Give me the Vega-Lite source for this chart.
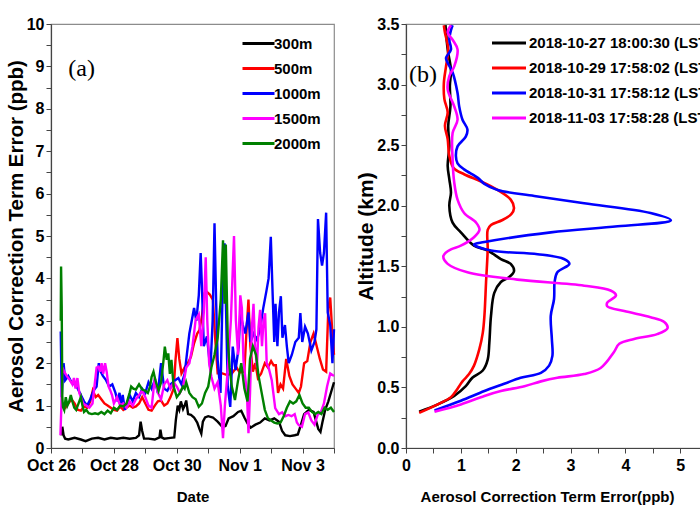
{
  "$schema": "https://vega.github.io/schema/vega-lite/v6.json",
  "background": "white",
  "padding": {"left": 5, "top": 15, "right": 0, "bottom": 0},
  "spacing": 15,
  "config": {
    "font": "Liberation Sans",
    "view": {"stroke": "#8c8c8c", "strokeWidth": 1.2},
    "axis": {
      "grid": false,
      "labelFont": "Liberation Sans",
      "labelFontWeight": "bold",
      "labelFontSize": 16,
      "labelColor": "black",
      "labelOverlap": false,
      "labelFlush": false,
      "titleFont": "Liberation Sans",
      "titleFontWeight": "bold",
      "titleFontSize": 15,
      "titleColor": "black",
      "domainColor": "#444444",
      "domainWidth": 1.2,
      "tickColor": "#444444",
      "tickSize": 5,
      "labelPadding": 2
    },
    "legend": {
      "title": null,
      "symbolStrokeWidth": 3,
      "labelFont": "Liberation Sans",
      "labelFontWeight": "bold",
      "labelFontSize": 15,
      "labelColor": "black",
      "padding": 0,
      "rowPadding": 7,
      "labelLimit": 1000
    }
  },
  "resolve": {"scale": {"x": "independent", "y": "independent", "color": "independent"}, "legend": {"color": "independent"}},
  "datasets": {
    "notesA": [{"label": "(a)", "time": "2018-10-26T13:12", "value": 8.94}],
    "notesB": [{"label": "(b)", "err": 0.055, "alt": 3.08}],
    "ts": [
      {"series":"300m","time":"2018-10-26T07:55","value":0.30},
      {"series":"300m","time":"2018-10-26T08:38","value":0.50},
      {"series":"300m","time":"2018-10-26T09:36","value":0.30},
      {"series":"300m","time":"2018-10-26T10:48","value":0.22},
      {"series":"300m","time":"2018-10-26T13:12","value":0.20},
      {"series":"300m","time":"2018-10-26T18:00","value":0.24},
      {"series":"300m","time":"2018-10-26T22:48","value":0.20},
      {"series":"300m","time":"2018-10-27T02:24","value":0.16},
      {"series":"300m","time":"2018-10-27T07:12","value":0.22},
      {"series":"300m","time":"2018-10-27T12:00","value":0.24},
      {"series":"300m","time":"2018-10-27T16:48","value":0.20},
      {"series":"300m","time":"2018-10-27T21:36","value":0.24},
      {"series":"300m","time":"2018-10-28T02:24","value":0.22},
      {"series":"300m","time":"2018-10-28T07:12","value":0.24},
      {"series":"300m","time":"2018-10-28T12:00","value":0.22},
      {"series":"300m","time":"2018-10-28T16:48","value":0.24},
      {"series":"300m","time":"2018-10-28T19:12","value":0.30},
      {"series":"300m","time":"2018-10-28T20:24","value":0.62},
      {"series":"300m","time":"2018-10-28T21:36","value":0.40},
      {"series":"300m","time":"2018-10-28T23:02","value":0.22},
      {"series":"300m","time":"2018-10-29T02:24","value":0.22},
      {"series":"300m","time":"2018-10-29T07:12","value":0.20},
      {"series":"300m","time":"2018-10-29T10:48","value":0.25},
      {"series":"300m","time":"2018-10-29T11:31","value":0.43},
      {"series":"300m","time":"2018-10-29T12:29","value":0.25},
      {"series":"300m","time":"2018-10-29T14:24","value":0.22},
      {"series":"300m","time":"2018-10-29T19:12","value":0.24},
      {"series":"300m","time":"2018-10-29T22:05","value":0.25},
      {"series":"300m","time":"2018-10-29T23:17","value":0.66},
      {"series":"300m","time":"2018-10-30T00:43","value":1.00},
      {"series":"300m","time":"2018-10-30T01:55","value":0.90},
      {"series":"300m","time":"2018-10-30T03:07","value":1.10},
      {"series":"300m","time":"2018-10-30T04:48","value":0.92},
      {"series":"300m","time":"2018-10-30T06:00","value":1.00},
      {"series":"300m","time":"2018-10-30T07:12","value":1.12},
      {"series":"300m","time":"2018-10-30T08:38","value":0.80},
      {"series":"300m","time":"2018-10-30T10:48","value":0.78},
      {"series":"300m","time":"2018-10-30T13:12","value":0.72},
      {"series":"300m","time":"2018-10-30T15:36","value":0.60},
      {"series":"300m","time":"2018-10-30T17:17","value":0.45},
      {"series":"300m","time":"2018-10-30T18:43","value":0.34},
      {"series":"300m","time":"2018-10-30T19:55","value":0.62},
      {"series":"300m","time":"2018-10-30T21:36","value":0.72},
      {"series":"300m","time":"2018-10-31T00:00","value":0.75},
      {"series":"300m","time":"2018-10-31T03:36","value":0.72},
      {"series":"300m","time":"2018-10-31T07:12","value":0.62},
      {"series":"300m","time":"2018-10-31T10:48","value":0.50},
      {"series":"300m","time":"2018-10-31T13:12","value":0.52},
      {"series":"300m","time":"2018-10-31T15:36","value":0.70},
      {"series":"300m","time":"2018-10-31T19:12","value":0.75},
      {"series":"300m","time":"2018-10-31T22:48","value":0.85},
      {"series":"300m","time":"2018-11-01T01:12","value":0.88},
      {"series":"300m","time":"2018-11-01T03:36","value":0.72},
      {"series":"300m","time":"2018-11-01T06:00","value":0.58},
      {"series":"300m","time":"2018-11-01T08:24","value":0.48},
      {"series":"300m","time":"2018-11-01T12:00","value":0.55},
      {"series":"300m","time":"2018-11-01T15:36","value":0.60},
      {"series":"300m","time":"2018-11-01T19:12","value":0.70},
      {"series":"300m","time":"2018-11-01T22:48","value":0.65},
      {"series":"300m","time":"2018-11-02T02:24","value":0.70},
      {"series":"300m","time":"2018-11-02T06:00","value":0.62},
      {"series":"300m","time":"2018-11-02T08:24","value":0.40},
      {"series":"300m","time":"2018-11-02T10:48","value":0.30},
      {"series":"300m","time":"2018-11-02T14:24","value":0.28},
      {"series":"300m","time":"2018-11-02T18:00","value":0.30},
      {"series":"300m","time":"2018-11-02T20:24","value":0.32},
      {"series":"300m","time":"2018-11-02T22:48","value":0.55},
      {"series":"300m","time":"2018-11-03T01:12","value":0.80},
      {"series":"300m","time":"2018-11-03T04:48","value":0.90},
      {"series":"300m","time":"2018-11-03T08:24","value":0.85},
      {"series":"300m","time":"2018-11-03T12:00","value":0.45},
      {"series":"300m","time":"2018-11-03T13:41","value":0.38},
      {"series":"300m","time":"2018-11-03T15:07","value":0.60},
      {"series":"300m","time":"2018-11-03T17:17","value":0.90},
      {"series":"300m","time":"2018-11-03T19:41","value":1.10},
      {"series":"300m","time":"2018-11-03T22:05","value":1.35},
      {"series":"300m","time":"2018-11-04T00:00","value":1.55},

      {"series":"500m","time":"2018-10-26T09:36","value":1.00},
      {"series":"500m","time":"2018-10-26T10:48","value":0.95},
      {"series":"500m","time":"2018-10-26T13:12","value":1.05},
      {"series":"500m","time":"2018-10-26T15:36","value":1.15},
      {"series":"500m","time":"2018-10-26T18:00","value":1.05},
      {"series":"500m","time":"2018-10-26T20:24","value":0.90},
      {"series":"500m","time":"2018-10-26T22:48","value":0.88},
      {"series":"500m","time":"2018-10-27T01:12","value":0.98},
      {"series":"500m","time":"2018-10-27T03:36","value":0.95},
      {"series":"500m","time":"2018-10-27T06:00","value":1.10},
      {"series":"500m","time":"2018-10-27T07:55","value":1.36},
      {"series":"500m","time":"2018-10-27T10:05","value":1.20},
      {"series":"500m","time":"2018-10-27T12:00","value":1.25},
      {"series":"500m","time":"2018-10-27T14:24","value":1.15},
      {"series":"500m","time":"2018-10-27T16:48","value":1.05},
      {"series":"500m","time":"2018-10-27T19:12","value":1.00},
      {"series":"500m","time":"2018-10-27T21:36","value":0.95},
      {"series":"500m","time":"2018-10-28T00:00","value":0.90},
      {"series":"500m","time":"2018-10-28T02:24","value":0.88},
      {"series":"500m","time":"2018-10-28T04:48","value":0.98},
      {"series":"500m","time":"2018-10-28T07:12","value":0.90},
      {"series":"500m","time":"2018-10-28T09:36","value":0.95},
      {"series":"500m","time":"2018-10-28T12:00","value":1.00},
      {"series":"500m","time":"2018-10-28T14:24","value":0.95},
      {"series":"500m","time":"2018-10-28T16:48","value":0.98},
      {"series":"500m","time":"2018-10-28T19:12","value":1.05},
      {"series":"500m","time":"2018-10-28T21:36","value":1.20},
      {"series":"500m","time":"2018-10-29T00:00","value":1.05},
      {"series":"500m","time":"2018-10-29T02:24","value":0.90},
      {"series":"500m","time":"2018-10-29T04:48","value":0.88},
      {"series":"500m","time":"2018-10-29T07:12","value":1.00},
      {"series":"500m","time":"2018-10-29T09:36","value":1.10},
      {"series":"500m","time":"2018-10-29T12:00","value":1.12},
      {"series":"500m","time":"2018-10-29T14:24","value":1.00},
      {"series":"500m","time":"2018-10-29T16:48","value":1.05},
      {"series":"500m","time":"2018-10-29T19:12","value":1.20},
      {"series":"500m","time":"2018-10-29T21:36","value":1.40},
      {"series":"500m","time":"2018-10-29T23:02","value":2.08},
      {"series":"500m","time":"2018-10-30T00:29","value":2.59},
      {"series":"500m","time":"2018-10-30T01:55","value":2.10},
      {"series":"500m","time":"2018-10-30T03:36","value":1.76},
      {"series":"500m","time":"2018-10-30T06:00","value":1.90},
      {"series":"500m","time":"2018-10-30T08:24","value":2.00},
      {"series":"500m","time":"2018-10-30T10:48","value":2.15},
      {"series":"500m","time":"2018-10-30T13:12","value":2.47},
      {"series":"500m","time":"2018-10-30T15:36","value":2.70},
      {"series":"500m","time":"2018-10-30T17:17","value":2.78},
      {"series":"500m","time":"2018-10-30T19:12","value":3.10},
      {"series":"500m","time":"2018-10-30T21:07","value":3.65},
      {"series":"500m","time":"2018-10-30T23:02","value":3.68},
      {"series":"500m","time":"2018-10-31T01:12","value":3.62},
      {"series":"500m","time":"2018-10-31T03:36","value":3.49},
      {"series":"500m","time":"2018-10-31T05:17","value":2.60},
      {"series":"500m","time":"2018-10-31T07:12","value":1.76},
      {"series":"500m","time":"2018-10-31T10:48","value":1.76},
      {"series":"500m","time":"2018-10-31T14:24","value":1.72},
      {"series":"500m","time":"2018-10-31T18:00","value":1.76},
      {"series":"500m","time":"2018-10-31T21:36","value":1.90},
      {"series":"500m","time":"2018-11-01T00:00","value":1.78},
      {"series":"500m","time":"2018-11-01T03:36","value":1.80},
      {"series":"500m","time":"2018-11-01T05:17","value":2.80},
      {"series":"500m","time":"2018-11-01T06:43","value":3.50},
      {"series":"500m","time":"2018-11-01T08:10","value":2.40},
      {"series":"500m","time":"2018-11-01T10:05","value":1.80},
      {"series":"500m","time":"2018-11-01T12:00","value":2.00},
      {"series":"500m","time":"2018-11-01T13:55","value":1.65},
      {"series":"500m","time":"2018-11-01T16:19","value":1.75},
      {"series":"500m","time":"2018-11-01T19:12","value":2.00},
      {"series":"500m","time":"2018-11-01T21:36","value":1.90},
      {"series":"500m","time":"2018-11-02T00:00","value":2.05},
      {"series":"500m","time":"2018-11-02T01:55","value":1.95},
      {"series":"500m","time":"2018-11-02T03:36","value":1.95},
      {"series":"500m","time":"2018-11-02T05:17","value":1.30},
      {"series":"500m","time":"2018-11-02T07:12","value":1.50},
      {"series":"500m","time":"2018-11-02T09:07","value":1.40},
      {"series":"500m","time":"2018-11-02T11:31","value":2.10},
      {"series":"500m","time":"2018-11-02T13:55","value":1.70},
      {"series":"500m","time":"2018-11-02T16:19","value":1.50},
      {"series":"500m","time":"2018-11-02T18:43","value":1.40},
      {"series":"500m","time":"2018-11-02T21:07","value":1.30},
      {"series":"500m","time":"2018-11-02T22:48","value":1.45},
      {"series":"500m","time":"2018-11-03T01:12","value":2.00},
      {"series":"500m","time":"2018-11-03T03:36","value":2.05},
      {"series":"500m","time":"2018-11-03T06:00","value":2.50},
      {"series":"500m","time":"2018-11-03T08:24","value":2.70},
      {"series":"500m","time":"2018-11-03T10:48","value":2.40},
      {"series":"500m","time":"2018-11-03T13:12","value":2.10},
      {"series":"500m","time":"2018-11-03T15:36","value":1.85},
      {"series":"500m","time":"2018-11-03T18:00","value":1.80},
      {"series":"500m","time":"2018-11-03T19:41","value":3.30},
      {"series":"500m","time":"2018-11-03T21:07","value":3.55},
      {"series":"500m","time":"2018-11-03T22:34","value":2.80},
      {"series":"500m","time":"2018-11-04T00:00","value":2.20},

      {"series":"1000m","time":"2018-10-26T07:26","value":2.75},
      {"series":"1000m","time":"2018-10-26T08:10","value":1.20},
      {"series":"1000m","time":"2018-10-26T09:36","value":2.00},
      {"series":"1000m","time":"2018-10-26T10:48","value":1.60},
      {"series":"1000m","time":"2018-10-26T13:12","value":1.70},
      {"series":"1000m","time":"2018-10-26T15:36","value":1.55},
      {"series":"1000m","time":"2018-10-26T18:00","value":1.50},
      {"series":"1000m","time":"2018-10-26T20:24","value":1.40},
      {"series":"1000m","time":"2018-10-26T22:48","value":1.25},
      {"series":"1000m","time":"2018-10-27T01:12","value":1.10},
      {"series":"1000m","time":"2018-10-27T03:36","value":1.00},
      {"series":"1000m","time":"2018-10-27T06:00","value":1.15},
      {"series":"1000m","time":"2018-10-27T08:24","value":1.35},
      {"series":"1000m","time":"2018-10-27T10:48","value":1.45},
      {"series":"1000m","time":"2018-10-27T12:29","value":2.00},
      {"series":"1000m","time":"2018-10-27T13:55","value":1.80},
      {"series":"1000m","time":"2018-10-27T15:36","value":1.70},
      {"series":"1000m","time":"2018-10-27T18:00","value":1.60},
      {"series":"1000m","time":"2018-10-27T20:24","value":1.45},
      {"series":"1000m","time":"2018-10-27T22:48","value":1.50},
      {"series":"1000m","time":"2018-10-28T01:12","value":1.30},
      {"series":"1000m","time":"2018-10-28T02:53","value":1.10},
      {"series":"1000m","time":"2018-10-28T04:19","value":1.30},
      {"series":"1000m","time":"2018-10-28T05:17","value":1.00},
      {"series":"1000m","time":"2018-10-28T06:43","value":1.25},
      {"series":"1000m","time":"2018-10-28T08:24","value":0.90},
      {"series":"1000m","time":"2018-10-28T10:05","value":1.05},
      {"series":"1000m","time":"2018-10-28T12:00","value":1.25},
      {"series":"1000m","time":"2018-10-28T14:24","value":1.10},
      {"series":"1000m","time":"2018-10-28T16:48","value":1.30},
      {"series":"1000m","time":"2018-10-28T19:12","value":1.20},
      {"series":"1000m","time":"2018-10-28T21:36","value":1.40},
      {"series":"1000m","time":"2018-10-29T00:00","value":1.30},
      {"series":"1000m","time":"2018-10-29T02:24","value":1.55},
      {"series":"1000m","time":"2018-10-29T04:48","value":1.40},
      {"series":"1000m","time":"2018-10-29T07:12","value":1.60},
      {"series":"1000m","time":"2018-10-29T09:36","value":1.30},
      {"series":"1000m","time":"2018-10-29T12:00","value":2.00},
      {"series":"1000m","time":"2018-10-29T14:24","value":1.40},
      {"series":"1000m","time":"2018-10-29T16:48","value":1.35},
      {"series":"1000m","time":"2018-10-29T19:12","value":1.50},
      {"series":"1000m","time":"2018-10-29T22:48","value":1.60},
      {"series":"1000m","time":"2018-10-30T01:12","value":1.65},
      {"series":"1000m","time":"2018-10-30T03:36","value":1.50},
      {"series":"1000m","time":"2018-10-30T06:00","value":1.75},
      {"series":"1000m","time":"2018-10-30T07:41","value":2.20},
      {"series":"1000m","time":"2018-10-30T09:36","value":2.70},
      {"series":"1000m","time":"2018-10-30T11:31","value":3.02},
      {"series":"1000m","time":"2018-10-30T13:12","value":3.30},
      {"series":"1000m","time":"2018-10-30T14:53","value":3.00},
      {"series":"1000m","time":"2018-10-30T16:48","value":3.60},
      {"series":"1000m","time":"2018-10-30T18:14","value":4.60},
      {"series":"1000m","time":"2018-10-30T19:12","value":3.80},
      {"series":"1000m","time":"2018-10-30T20:38","value":2.40},
      {"series":"1000m","time":"2018-10-30T23:02","value":2.63},
      {"series":"1000m","time":"2018-10-31T01:41","value":1.84},
      {"series":"1000m","time":"2018-10-31T03:22","value":3.00},
      {"series":"1000m","time":"2018-10-31T04:48","value":5.30},
      {"series":"1000m","time":"2018-10-31T06:00","value":3.50},
      {"series":"1000m","time":"2018-10-31T07:12","value":2.08},
      {"series":"1000m","time":"2018-10-31T09:22","value":1.30},
      {"series":"1000m","time":"2018-10-31T11:02","value":3.80},
      {"series":"1000m","time":"2018-10-31T12:29","value":4.83},
      {"series":"1000m","time":"2018-10-31T13:26","value":3.50},
      {"series":"1000m","time":"2018-10-31T14:53","value":1.45},
      {"series":"1000m","time":"2018-10-31T16:48","value":0.97},
      {"series":"1000m","time":"2018-10-31T18:43","value":2.39},
      {"series":"1000m","time":"2018-10-31T20:53","value":1.84},
      {"series":"1000m","time":"2018-10-31T23:17","value":2.39},
      {"series":"1000m","time":"2018-11-01T00:29","value":3.20},
      {"series":"1000m","time":"2018-11-01T02:24","value":2.90},
      {"series":"1000m","time":"2018-11-01T04:19","value":2.70},
      {"series":"1000m","time":"2018-11-01T06:43","value":3.20},
      {"series":"1000m","time":"2018-11-01T08:10","value":2.50},
      {"series":"1000m","time":"2018-11-01T10:48","value":2.70},
      {"series":"1000m","time":"2018-11-01T13:12","value":2.55},
      {"series":"1000m","time":"2018-11-01T15:36","value":2.80},
      {"series":"1000m","time":"2018-11-01T18:00","value":3.30},
      {"series":"1000m","time":"2018-11-01T20:24","value":3.70},
      {"series":"1000m","time":"2018-11-01T22:05","value":4.00},
      {"series":"1000m","time":"2018-11-01T23:46","value":4.98},
      {"series":"1000m","time":"2018-11-02T01:12","value":3.60},
      {"series":"1000m","time":"2018-11-02T02:24","value":2.50},
      {"series":"1000m","time":"2018-11-02T03:22","value":3.40},
      {"series":"1000m","time":"2018-11-02T04:48","value":2.40},
      {"series":"1000m","time":"2018-11-02T06:00","value":3.20},
      {"series":"1000m","time":"2018-11-02T07:26","value":3.58},
      {"series":"1000m","time":"2018-11-02T08:38","value":2.60},
      {"series":"1000m","time":"2018-11-02T10:34","value":2.90},
      {"series":"1000m","time":"2018-11-02T12:00","value":2.40},
      {"series":"1000m","time":"2018-11-02T13:26","value":2.00},
      {"series":"1000m","time":"2018-11-02T15:50","value":2.20},
      {"series":"1000m","time":"2018-11-02T18:29","value":2.50},
      {"series":"1000m","time":"2018-11-02T21:07","value":2.60},
      {"series":"1000m","time":"2018-11-02T22:19","value":3.18},
      {"series":"1000m","time":"2018-11-02T23:46","value":2.50},
      {"series":"1000m","time":"2018-11-03T01:55","value":2.86},
      {"series":"1000m","time":"2018-11-03T04:05","value":2.70},
      {"series":"1000m","time":"2018-11-03T06:43","value":2.30},
      {"series":"1000m","time":"2018-11-03T09:07","value":2.50},
      {"series":"1000m","time":"2018-11-03T10:34","value":2.80},
      {"series":"1000m","time":"2018-11-03T11:46","value":5.40},
      {"series":"1000m","time":"2018-11-03T13:26","value":4.60},
      {"series":"1000m","time":"2018-11-03T14:53","value":4.30},
      {"series":"1000m","time":"2018-11-03T16:19","value":4.60},
      {"series":"1000m","time":"2018-11-03T18:00","value":5.55},
      {"series":"1000m","time":"2018-11-03T19:12","value":3.20},
      {"series":"1000m","time":"2018-11-03T21:07","value":2.90},
      {"series":"1000m","time":"2018-11-03T22:48","value":2.00},
      {"series":"1000m","time":"2018-11-04T00:00","value":2.80},

      {"series":"1500m","time":"2018-10-26T07:12","value":0.30},
      {"series":"1500m","time":"2018-10-26T07:55","value":1.00},
      {"series":"1500m","time":"2018-10-26T08:38","value":1.90},
      {"series":"1500m","time":"2018-10-26T10:05","value":1.80},
      {"series":"1500m","time":"2018-10-26T12:00","value":1.70},
      {"series":"1500m","time":"2018-10-26T14:24","value":1.60},
      {"series":"1500m","time":"2018-10-26T16:19","value":1.50},
      {"series":"1500m","time":"2018-10-26T17:31","value":1.65},
      {"series":"1500m","time":"2018-10-26T18:43","value":1.40},
      {"series":"1500m","time":"2018-10-26T20:10","value":1.65},
      {"series":"1500m","time":"2018-10-26T21:36","value":1.30},
      {"series":"1500m","time":"2018-10-26T22:48","value":1.20},
      {"series":"1500m","time":"2018-10-27T00:29","value":1.05},
      {"series":"1500m","time":"2018-10-27T02:53","value":1.00},
      {"series":"1500m","time":"2018-10-27T05:17","value":0.95},
      {"series":"1500m","time":"2018-10-27T07:41","value":1.05},
      {"series":"1500m","time":"2018-10-27T10:48","value":1.90},
      {"series":"1500m","time":"2018-10-27T12:14","value":1.92},
      {"series":"1500m","time":"2018-10-27T13:26","value":1.80},
      {"series":"1500m","time":"2018-10-27T14:38","value":2.00},
      {"series":"1500m","time":"2018-10-27T15:50","value":1.75},
      {"series":"1500m","time":"2018-10-27T17:17","value":2.00},
      {"series":"1500m","time":"2018-10-27T18:29","value":1.80},
      {"series":"1500m","time":"2018-10-27T19:55","value":1.45},
      {"series":"1500m","time":"2018-10-27T21:07","value":1.37},
      {"series":"1500m","time":"2018-10-27T22:34","value":1.25},
      {"series":"1500m","time":"2018-10-28T00:00","value":1.05},
      {"series":"1500m","time":"2018-10-28T02:24","value":1.20},
      {"series":"1500m","time":"2018-10-28T04:48","value":1.00},
      {"series":"1500m","time":"2018-10-28T07:12","value":1.05},
      {"series":"1500m","time":"2018-10-28T09:36","value":0.95},
      {"series":"1500m","time":"2018-10-28T12:00","value":1.10},
      {"series":"1500m","time":"2018-10-28T14:24","value":1.00},
      {"series":"1500m","time":"2018-10-28T16:48","value":1.15},
      {"series":"1500m","time":"2018-10-28T19:12","value":1.25},
      {"series":"1500m","time":"2018-10-28T21:36","value":1.35},
      {"series":"1500m","time":"2018-10-29T00:00","value":1.20},
      {"series":"1500m","time":"2018-10-29T02:24","value":1.00},
      {"series":"1500m","time":"2018-10-29T04:48","value":0.95},
      {"series":"1500m","time":"2018-10-29T07:12","value":1.65},
      {"series":"1500m","time":"2018-10-29T09:36","value":1.30},
      {"series":"1500m","time":"2018-10-29T12:00","value":1.15},
      {"series":"1500m","time":"2018-10-29T14:24","value":1.50},
      {"series":"1500m","time":"2018-10-29T16:48","value":1.60},
      {"series":"1500m","time":"2018-10-29T19:12","value":1.40},
      {"series":"1500m","time":"2018-10-29T21:36","value":1.55},
      {"series":"1500m","time":"2018-10-30T00:00","value":1.45},
      {"series":"1500m","time":"2018-10-30T02:24","value":1.30},
      {"series":"1500m","time":"2018-10-30T04:48","value":1.45},
      {"series":"1500m","time":"2018-10-30T07:12","value":1.90},
      {"series":"1500m","time":"2018-10-30T09:36","value":2.00},
      {"series":"1500m","time":"2018-10-30T12:00","value":2.40},
      {"series":"1500m","time":"2018-10-30T14:24","value":3.02},
      {"series":"1500m","time":"2018-10-30T16:48","value":3.15},
      {"series":"1500m","time":"2018-10-30T18:43","value":2.40},
      {"series":"1500m","time":"2018-10-30T20:38","value":3.20},
      {"series":"1500m","time":"2018-10-30T22:05","value":4.50},
      {"series":"1500m","time":"2018-10-30T23:17","value":3.00},
      {"series":"1500m","time":"2018-10-31T00:43","value":2.00},
      {"series":"1500m","time":"2018-10-31T02:24","value":1.68},
      {"series":"1500m","time":"2018-10-31T04:48","value":1.40},
      {"series":"1500m","time":"2018-10-31T07:12","value":1.55},
      {"series":"1500m","time":"2018-10-31T09:36","value":1.00},
      {"series":"1500m","time":"2018-10-31T11:17","value":0.23},
      {"series":"1500m","time":"2018-10-31T12:43","value":1.00},
      {"series":"1500m","time":"2018-10-31T14:53","value":1.84},
      {"series":"1500m","time":"2018-10-31T17:17","value":3.00},
      {"series":"1500m","time":"2018-10-31T19:41","value":5.00},
      {"series":"1500m","time":"2018-10-31T21:07","value":3.00},
      {"series":"1500m","time":"2018-10-31T22:48","value":2.20},
      {"series":"1500m","time":"2018-11-01T00:29","value":3.60},
      {"series":"1500m","time":"2018-11-01T01:41","value":3.30},
      {"series":"1500m","time":"2018-11-01T02:53","value":2.08},
      {"series":"1500m","time":"2018-11-01T05:31","value":1.30},
      {"series":"1500m","time":"2018-11-01T06:43","value":0.35},
      {"series":"1500m","time":"2018-11-01T07:55","value":1.30},
      {"series":"1500m","time":"2018-11-01T09:22","value":2.86},
      {"series":"1500m","time":"2018-11-01T10:34","value":3.40},
      {"series":"1500m","time":"2018-11-01T11:46","value":2.40},
      {"series":"1500m","time":"2018-11-01T13:12","value":1.90},
      {"series":"1500m","time":"2018-11-01T14:24","value":2.86},
      {"series":"1500m","time":"2018-11-01T15:36","value":3.26},
      {"series":"1500m","time":"2018-11-01T17:02","value":2.40},
      {"series":"1500m","time":"2018-11-01T18:14","value":3.00},
      {"series":"1500m","time":"2018-11-01T19:26","value":3.18},
      {"series":"1500m","time":"2018-11-01T20:38","value":2.00},
      {"series":"1500m","time":"2018-11-01T22:05","value":1.90},
      {"series":"1500m","time":"2018-11-02T00:29","value":1.60},
      {"series":"1500m","time":"2018-11-02T01:41","value":1.30},
      {"series":"1500m","time":"2018-11-02T03:07","value":0.94},
      {"series":"1500m","time":"2018-11-02T06:00","value":0.80},
      {"series":"1500m","time":"2018-11-02T08:24","value":0.84},
      {"series":"1500m","time":"2018-11-02T10:48","value":0.75},
      {"series":"1500m","time":"2018-11-02T13:12","value":0.78},
      {"series":"1500m","time":"2018-11-02T15:36","value":0.75},
      {"series":"1500m","time":"2018-11-02T18:00","value":0.80},
      {"series":"1500m","time":"2018-11-02T19:41","value":0.60},
      {"series":"1500m","time":"2018-11-02T21:07","value":0.54},
      {"series":"1500m","time":"2018-11-02T23:31","value":0.50},
      {"series":"1500m","time":"2018-11-03T01:55","value":0.80},
      {"series":"1500m","time":"2018-11-03T04:19","value":0.84},
      {"series":"1500m","time":"2018-11-03T06:43","value":0.65},
      {"series":"1500m","time":"2018-11-03T09:07","value":0.55},
      {"series":"1500m","time":"2018-11-03T11:31","value":0.78},
      {"series":"1500m","time":"2018-11-03T13:55","value":0.84},
      {"series":"1500m","time":"2018-11-03T16:19","value":1.05},
      {"series":"1500m","time":"2018-11-03T18:43","value":1.45},
      {"series":"1500m","time":"2018-11-03T21:07","value":1.76},
      {"series":"1500m","time":"2018-11-04T00:00","value":1.70},

      {"series":"2000m","time":"2018-10-26T07:26","value":3.00},
      {"series":"2000m","time":"2018-10-26T07:41","value":4.28},
      {"series":"2000m","time":"2018-10-26T08:10","value":3.34},
      {"series":"2000m","time":"2018-10-26T08:38","value":1.20},
      {"series":"2000m","time":"2018-10-26T09:07","value":0.97},
      {"series":"2000m","time":"2018-10-26T10:05","value":0.90},
      {"series":"2000m","time":"2018-10-26T11:17","value":1.20},
      {"series":"2000m","time":"2018-10-26T12:29","value":1.00},
      {"series":"2000m","time":"2018-10-26T13:55","value":1.10},
      {"series":"2000m","time":"2018-10-26T15:07","value":1.25},
      {"series":"2000m","time":"2018-10-26T16:19","value":1.10},
      {"series":"2000m","time":"2018-10-26T17:46","value":0.95},
      {"series":"2000m","time":"2018-10-26T19:12","value":0.90},
      {"series":"2000m","time":"2018-10-26T20:24","value":1.00},
      {"series":"2000m","time":"2018-10-26T21:36","value":1.10},
      {"series":"2000m","time":"2018-10-26T22:48","value":1.20},
      {"series":"2000m","time":"2018-10-27T00:00","value":1.00},
      {"series":"2000m","time":"2018-10-27T01:12","value":0.85},
      {"series":"2000m","time":"2018-10-27T02:53","value":0.90},
      {"series":"2000m","time":"2018-10-27T04:48","value":0.82},
      {"series":"2000m","time":"2018-10-27T07:12","value":0.80},
      {"series":"2000m","time":"2018-10-27T09:36","value":0.82},
      {"series":"2000m","time":"2018-10-27T12:00","value":0.80},
      {"series":"2000m","time":"2018-10-27T14:24","value":0.85},
      {"series":"2000m","time":"2018-10-27T16:48","value":0.80},
      {"series":"2000m","time":"2018-10-27T19:12","value":0.88},
      {"series":"2000m","time":"2018-10-27T21:36","value":0.82},
      {"series":"2000m","time":"2018-10-28T00:00","value":0.95},
      {"series":"2000m","time":"2018-10-28T02:24","value":0.90},
      {"series":"2000m","time":"2018-10-28T04:48","value":1.00},
      {"series":"2000m","time":"2018-10-28T07:12","value":0.98},
      {"series":"2000m","time":"2018-10-28T09:36","value":1.05},
      {"series":"2000m","time":"2018-10-28T12:00","value":1.30},
      {"series":"2000m","time":"2018-10-28T13:12","value":1.45},
      {"series":"2000m","time":"2018-10-28T14:53","value":1.40},
      {"series":"2000m","time":"2018-10-28T16:48","value":1.38},
      {"series":"2000m","time":"2018-10-28T19:12","value":1.50},
      {"series":"2000m","time":"2018-10-28T21:36","value":1.38},
      {"series":"2000m","time":"2018-10-29T00:00","value":1.35},
      {"series":"2000m","time":"2018-10-29T01:55","value":1.30},
      {"series":"2000m","time":"2018-10-29T03:36","value":1.45},
      {"series":"2000m","time":"2018-10-29T04:48","value":1.68},
      {"series":"2000m","time":"2018-10-29T06:14","value":1.80},
      {"series":"2000m","time":"2018-10-29T07:41","value":1.60},
      {"series":"2000m","time":"2018-10-29T10:05","value":1.35},
      {"series":"2000m","time":"2018-10-29T12:00","value":1.55},
      {"series":"2000m","time":"2018-10-29T13:55","value":2.08},
      {"series":"2000m","time":"2018-10-29T14:53","value":2.39},
      {"series":"2000m","time":"2018-10-29T16:19","value":2.08},
      {"series":"2000m","time":"2018-10-29T17:31","value":2.23},
      {"series":"2000m","time":"2018-10-29T18:43","value":1.75},
      {"series":"2000m","time":"2018-10-29T19:55","value":2.08},
      {"series":"2000m","time":"2018-10-29T21:36","value":1.45},
      {"series":"2000m","time":"2018-10-30T00:00","value":1.20},
      {"series":"2000m","time":"2018-10-30T02:24","value":1.30},
      {"series":"2000m","time":"2018-10-30T04:48","value":1.45},
      {"series":"2000m","time":"2018-10-30T06:00","value":1.40},
      {"series":"2000m","time":"2018-10-30T07:12","value":1.55},
      {"series":"2000m","time":"2018-10-30T09:36","value":1.30},
      {"series":"2000m","time":"2018-10-30T12:00","value":1.20},
      {"series":"2000m","time":"2018-10-30T14:24","value":1.15},
      {"series":"2000m","time":"2018-10-30T16:48","value":0.97},
      {"series":"2000m","time":"2018-10-30T19:12","value":1.05},
      {"series":"2000m","time":"2018-10-30T21:36","value":1.30},
      {"series":"2000m","time":"2018-10-31T00:00","value":1.45},
      {"series":"2000m","time":"2018-10-31T02:24","value":1.90},
      {"series":"2000m","time":"2018-10-31T04:48","value":2.20},
      {"series":"2000m","time":"2018-10-31T07:12","value":2.60},
      {"series":"2000m","time":"2018-10-31T09:36","value":3.50},
      {"series":"2000m","time":"2018-10-31T11:17","value":4.90},
      {"series":"2000m","time":"2018-10-31T12:29","value":3.40},
      {"series":"2000m","time":"2018-10-31T13:26","value":4.80},
      {"series":"2000m","time":"2018-10-31T14:53","value":2.60},
      {"series":"2000m","time":"2018-10-31T16:19","value":1.90},
      {"series":"2000m","time":"2018-10-31T18:00","value":1.45},
      {"series":"2000m","time":"2018-10-31T20:24","value":1.13},
      {"series":"2000m","time":"2018-10-31T22:48","value":1.60},
      {"series":"2000m","time":"2018-11-01T01:12","value":2.00},
      {"series":"2000m","time":"2018-11-01T03:36","value":1.40},
      {"series":"2000m","time":"2018-11-01T06:00","value":1.10},
      {"series":"2000m","time":"2018-11-01T07:55","value":2.10},
      {"series":"2000m","time":"2018-11-01T10:05","value":2.40},
      {"series":"2000m","time":"2018-11-01T12:29","value":2.20},
      {"series":"2000m","time":"2018-11-01T14:24","value":1.70},
      {"series":"2000m","time":"2018-11-01T16:48","value":1.30},
      {"series":"2000m","time":"2018-11-01T19:12","value":0.90},
      {"series":"2000m","time":"2018-11-01T21:36","value":0.70},
      {"series":"2000m","time":"2018-11-02T00:00","value":0.65},
      {"series":"2000m","time":"2018-11-02T02:24","value":0.60},
      {"series":"2000m","time":"2018-11-02T04:48","value":0.58},
      {"series":"2000m","time":"2018-11-02T07:12","value":0.60},
      {"series":"2000m","time":"2018-11-02T09:36","value":0.75},
      {"series":"2000m","time":"2018-11-02T12:00","value":0.95},
      {"series":"2000m","time":"2018-11-02T14:24","value":1.10},
      {"series":"2000m","time":"2018-11-02T16:48","value":1.05},
      {"series":"2000m","time":"2018-11-02T19:12","value":1.10},
      {"series":"2000m","time":"2018-11-02T21:36","value":1.25},
      {"series":"2000m","time":"2018-11-03T00:00","value":1.05},
      {"series":"2000m","time":"2018-11-03T02:24","value":0.95},
      {"series":"2000m","time":"2018-11-03T04:48","value":0.95},
      {"series":"2000m","time":"2018-11-03T07:12","value":0.85},
      {"series":"2000m","time":"2018-11-03T09:36","value":0.80},
      {"series":"2000m","time":"2018-11-03T12:00","value":0.85},
      {"series":"2000m","time":"2018-11-03T14:24","value":0.80},
      {"series":"2000m","time":"2018-11-03T16:48","value":0.95},
      {"series":"2000m","time":"2018-11-03T19:12","value":0.90},
      {"series":"2000m","time":"2018-11-03T21:36","value":0.95},
      {"series":"2000m","time":"2018-11-04T00:00","value":0.85}
    ],
    "prof": [
      {"date":"2018-10-27 18:00:30 (LST)","err":0.24,"alt":0.30},
      {"date":"2018-10-27 18:00:30 (LST)","err":0.58,"alt":0.36},
      {"date":"2018-10-27 18:00:30 (LST)","err":0.88,"alt":0.43},
      {"date":"2018-10-27 18:00:30 (LST)","err":1.09,"alt":0.51},
      {"date":"2018-10-27 18:00:30 (LST)","err":1.21,"alt":0.58},
      {"date":"2018-10-27 18:00:30 (LST)","err":1.40,"alt":0.64},
      {"date":"2018-10-27 18:00:30 (LST)","err":1.49,"alt":0.73},
      {"date":"2018-10-27 18:00:30 (LST)","err":1.52,"alt":0.87},
      {"date":"2018-10-27 18:00:30 (LST)","err":1.55,"alt":1.09},
      {"date":"2018-10-27 18:00:30 (LST)","err":1.61,"alt":1.28},
      {"date":"2018-10-27 18:00:30 (LST)","err":1.73,"alt":1.37},
      {"date":"2018-10-27 18:00:30 (LST)","err":1.88,"alt":1.41},
      {"date":"2018-10-27 18:00:30 (LST)","err":1.97,"alt":1.46},
      {"date":"2018-10-27 18:00:30 (LST)","err":1.91,"alt":1.52},
      {"date":"2018-10-27 18:00:30 (LST)","err":1.73,"alt":1.56},
      {"date":"2018-10-27 18:00:30 (LST)","err":1.49,"alt":1.63},
      {"date":"2018-10-27 18:00:30 (LST)","err":1.24,"alt":1.67},
      {"date":"2018-10-27 18:00:30 (LST)","err":1.00,"alt":1.78},
      {"date":"2018-10-27 18:00:30 (LST)","err":0.85,"alt":1.86},
      {"date":"2018-10-27 18:00:30 (LST)","err":0.79,"alt":2.00},
      {"date":"2018-10-27 18:00:30 (LST)","err":0.82,"alt":2.11},
      {"date":"2018-10-27 18:00:30 (LST)","err":0.79,"alt":2.22},
      {"date":"2018-10-27 18:00:30 (LST)","err":0.76,"alt":2.33},
      {"date":"2018-10-27 18:00:30 (LST)","err":0.79,"alt":2.49},
      {"date":"2018-10-27 18:00:30 (LST)","err":0.77,"alt":2.66},
      {"date":"2018-10-27 18:00:30 (LST)","err":0.81,"alt":2.82},
      {"date":"2018-10-27 18:00:30 (LST)","err":0.80,"alt":2.99},
      {"date":"2018-10-27 18:00:30 (LST)","err":0.82,"alt":3.12},
      {"date":"2018-10-27 18:00:30 (LST)","err":0.76,"alt":3.29},
      {"date":"2018-10-27 18:00:30 (LST)","err":0.72,"alt":3.49},

      {"date":"2018-10-29 17:58:02 (LST)","err":0.24,"alt":0.29},
      {"date":"2018-10-29 17:58:02 (LST)","err":0.58,"alt":0.36},
      {"date":"2018-10-29 17:58:02 (LST)","err":0.82,"alt":0.42},
      {"date":"2018-10-29 17:58:02 (LST)","err":0.94,"alt":0.49},
      {"date":"2018-10-29 17:58:02 (LST)","err":1.03,"alt":0.55},
      {"date":"2018-10-29 17:58:02 (LST)","err":1.15,"alt":0.61},
      {"date":"2018-10-29 17:58:02 (LST)","err":1.24,"alt":0.68},
      {"date":"2018-10-29 17:58:02 (LST)","err":1.34,"alt":0.82},
      {"date":"2018-10-29 17:58:02 (LST)","err":1.40,"alt":0.95},
      {"date":"2018-10-29 17:58:02 (LST)","err":1.43,"alt":1.09},
      {"date":"2018-10-29 17:58:02 (LST)","err":1.46,"alt":1.37},
      {"date":"2018-10-29 17:58:02 (LST)","err":1.49,"alt":1.64},
      {"date":"2018-10-29 17:58:02 (LST)","err":1.49,"alt":1.80},
      {"date":"2018-10-29 17:58:02 (LST)","err":1.55,"alt":1.84},
      {"date":"2018-10-29 17:58:02 (LST)","err":1.75,"alt":1.88},
      {"date":"2018-10-29 17:58:02 (LST)","err":1.92,"alt":1.93},
      {"date":"2018-10-29 17:58:02 (LST)","err":1.97,"alt":1.98},
      {"date":"2018-10-29 17:58:02 (LST)","err":1.91,"alt":2.05},
      {"date":"2018-10-29 17:58:02 (LST)","err":1.67,"alt":2.13},
      {"date":"2018-10-29 17:58:02 (LST)","err":1.37,"alt":2.20},
      {"date":"2018-10-29 17:58:02 (LST)","err":1.06,"alt":2.26},
      {"date":"2018-10-29 17:58:02 (LST)","err":0.87,"alt":2.31},
      {"date":"2018-10-29 17:58:02 (LST)","err":0.79,"alt":2.41},
      {"date":"2018-10-29 17:58:02 (LST)","err":0.76,"alt":2.55},
      {"date":"2018-10-29 17:58:02 (LST)","err":0.71,"alt":2.66},
      {"date":"2018-10-29 17:58:02 (LST)","err":0.76,"alt":2.77},
      {"date":"2018-10-29 17:58:02 (LST)","err":0.70,"alt":2.88},
      {"date":"2018-10-29 17:58:02 (LST)","err":0.69,"alt":3.01},
      {"date":"2018-10-29 17:58:02 (LST)","err":0.73,"alt":3.15},
      {"date":"2018-10-29 17:58:02 (LST)","err":0.77,"alt":3.29},
      {"date":"2018-10-29 17:58:02 (LST)","err":0.71,"alt":3.43},
      {"date":"2018-10-29 17:58:02 (LST)","err":0.69,"alt":3.49},

      {"date":"2018-10-31 17:58:12 (LST)","err":0.52,"alt":0.31},
      {"date":"2018-10-31 17:58:12 (LST)","err":1.00,"alt":0.39},
      {"date":"2018-10-31 17:58:12 (LST)","err":1.43,"alt":0.47},
      {"date":"2018-10-31 17:58:12 (LST)","err":1.79,"alt":0.53},
      {"date":"2018-10-31 17:58:12 (LST)","err":2.09,"alt":0.58},
      {"date":"2018-10-31 17:58:12 (LST)","err":2.46,"alt":0.62},
      {"date":"2018-10-31 17:58:12 (LST)","err":2.61,"alt":0.68},
      {"date":"2018-10-31 17:58:12 (LST)","err":2.67,"alt":0.76},
      {"date":"2018-10-31 17:58:12 (LST)","err":2.66,"alt":0.90},
      {"date":"2018-10-31 17:58:12 (LST)","err":2.64,"alt":1.09},
      {"date":"2018-10-31 17:58:12 (LST)","err":2.70,"alt":1.23},
      {"date":"2018-10-31 17:58:12 (LST)","err":2.71,"alt":1.37},
      {"date":"2018-10-31 17:58:12 (LST)","err":2.76,"alt":1.45},
      {"date":"2018-10-31 17:58:12 (LST)","err":2.98,"alt":1.52},
      {"date":"2018-10-31 17:58:12 (LST)","err":2.88,"alt":1.56},
      {"date":"2018-10-31 17:58:12 (LST)","err":2.40,"alt":1.60},
      {"date":"2018-10-31 17:58:12 (LST)","err":1.55,"alt":1.63},
      {"date":"2018-10-31 17:58:12 (LST)","err":1.24,"alt":1.68},
      {"date":"2018-10-31 17:58:12 (LST)","err":1.43,"alt":1.70},
      {"date":"2018-10-31 17:58:12 (LST)","err":2.64,"alt":1.78},
      {"date":"2018-10-31 17:58:12 (LST)","err":3.86,"alt":1.83},
      {"date":"2018-10-31 17:58:12 (LST)","err":4.83,"alt":1.88},
      {"date":"2018-10-31 17:58:12 (LST)","err":4.46,"alt":1.94},
      {"date":"2018-10-31 17:58:12 (LST)","err":3.25,"alt":2.02},
      {"date":"2018-10-31 17:58:12 (LST)","err":2.34,"alt":2.08},
      {"date":"2018-10-31 17:58:12 (LST)","err":1.67,"alt":2.13},
      {"date":"2018-10-31 17:58:12 (LST)","err":1.43,"alt":2.18},
      {"date":"2018-10-31 17:58:12 (LST)","err":1.31,"alt":2.23},
      {"date":"2018-10-31 17:58:12 (LST)","err":1.06,"alt":2.30},
      {"date":"2018-10-31 17:58:12 (LST)","err":0.94,"alt":2.35},
      {"date":"2018-10-31 17:58:12 (LST)","err":0.91,"alt":2.41},
      {"date":"2018-10-31 17:58:12 (LST)","err":0.94,"alt":2.49},
      {"date":"2018-10-31 17:58:12 (LST)","err":1.09,"alt":2.57},
      {"date":"2018-10-31 17:58:12 (LST)","err":1.12,"alt":2.63},
      {"date":"2018-10-31 17:58:12 (LST)","err":1.03,"alt":2.71},
      {"date":"2018-10-31 17:58:12 (LST)","err":0.97,"alt":2.82},
      {"date":"2018-10-31 17:58:12 (LST)","err":0.94,"alt":2.93},
      {"date":"2018-10-31 17:58:12 (LST)","err":0.85,"alt":3.10},
      {"date":"2018-10-31 17:58:12 (LST)","err":0.76,"alt":3.18},
      {"date":"2018-10-31 17:58:12 (LST)","err":0.73,"alt":3.22},
      {"date":"2018-10-31 17:58:12 (LST)","err":0.82,"alt":3.29},
      {"date":"2018-10-31 17:58:12 (LST)","err":0.79,"alt":3.37},
      {"date":"2018-10-31 17:58:12 (LST)","err":0.82,"alt":3.45},
      {"date":"2018-10-31 17:58:12 (LST)","err":0.85,"alt":3.49},

      {"date":"2018-11-03 17:58:28 (LST)","err":0.52,"alt":0.30},
      {"date":"2018-11-03 17:58:28 (LST)","err":1.00,"alt":0.36},
      {"date":"2018-11-03 17:58:28 (LST)","err":1.43,"alt":0.43},
      {"date":"2018-11-03 17:58:28 (LST)","err":1.73,"alt":0.47},
      {"date":"2018-11-03 17:58:28 (LST)","err":2.16,"alt":0.51},
      {"date":"2018-11-03 17:58:28 (LST)","err":2.46,"alt":0.55},
      {"date":"2018-11-03 17:58:28 (LST)","err":2.76,"alt":0.58},
      {"date":"2018-11-03 17:58:28 (LST)","err":3.25,"alt":0.61},
      {"date":"2018-11-03 17:58:28 (LST)","err":3.55,"alt":0.66},
      {"date":"2018-11-03 17:58:28 (LST)","err":3.79,"alt":0.79},
      {"date":"2018-11-03 17:58:28 (LST)","err":3.89,"alt":0.86},
      {"date":"2018-11-03 17:58:28 (LST)","err":4.16,"alt":0.90},
      {"date":"2018-11-03 17:58:28 (LST)","err":4.58,"alt":0.94},
      {"date":"2018-11-03 17:58:28 (LST)","err":4.77,"alt":0.99},
      {"date":"2018-11-03 17:58:28 (LST)","err":4.71,"alt":1.04},
      {"date":"2018-11-03 17:58:28 (LST)","err":4.46,"alt":1.08},
      {"date":"2018-11-03 17:58:28 (LST)","err":3.98,"alt":1.13},
      {"date":"2018-11-03 17:58:28 (LST)","err":3.67,"alt":1.17},
      {"date":"2018-11-03 17:58:28 (LST)","err":3.67,"alt":1.20},
      {"date":"2018-11-03 17:58:28 (LST)","err":3.83,"alt":1.26},
      {"date":"2018-11-03 17:58:28 (LST)","err":3.73,"alt":1.30},
      {"date":"2018-11-03 17:58:28 (LST)","err":3.25,"alt":1.34},
      {"date":"2018-11-03 17:58:28 (LST)","err":2.03,"alt":1.39},
      {"date":"2018-11-03 17:58:28 (LST)","err":1.12,"alt":1.45},
      {"date":"2018-11-03 17:58:28 (LST)","err":0.76,"alt":1.52},
      {"date":"2018-11-03 17:58:28 (LST)","err":0.68,"alt":1.58},
      {"date":"2018-11-03 17:58:28 (LST)","err":0.72,"alt":1.61},
      {"date":"2018-11-03 17:58:28 (LST)","err":0.82,"alt":1.64},
      {"date":"2018-11-03 17:58:28 (LST)","err":1.00,"alt":1.67},
      {"date":"2018-11-03 17:58:28 (LST)","err":1.24,"alt":1.74},
      {"date":"2018-11-03 17:58:28 (LST)","err":1.34,"alt":1.80},
      {"date":"2018-11-03 17:58:28 (LST)","err":1.28,"alt":1.86},
      {"date":"2018-11-03 17:58:28 (LST)","err":1.06,"alt":1.94},
      {"date":"2018-11-03 17:58:28 (LST)","err":0.94,"alt":2.05},
      {"date":"2018-11-03 17:58:28 (LST)","err":0.88,"alt":2.19},
      {"date":"2018-11-03 17:58:28 (LST)","err":0.85,"alt":2.38},
      {"date":"2018-11-03 17:58:28 (LST)","err":0.85,"alt":2.60},
      {"date":"2018-11-03 17:58:28 (LST)","err":0.94,"alt":2.71},
      {"date":"2018-11-03 17:58:28 (LST)","err":0.88,"alt":2.82},
      {"date":"2018-11-03 17:58:28 (LST)","err":0.76,"alt":2.96},
      {"date":"2018-11-03 17:58:28 (LST)","err":0.79,"alt":3.07},
      {"date":"2018-11-03 17:58:28 (LST)","err":0.88,"alt":3.15},
      {"date":"2018-11-03 17:58:28 (LST)","err":0.94,"alt":3.29},
      {"date":"2018-11-03 17:58:28 (LST)","err":0.85,"alt":3.37},
      {"date":"2018-11-03 17:58:28 (LST)","err":0.76,"alt":3.43},
      {"date":"2018-11-03 17:58:28 (LST)","err":0.82,"alt":3.49}
    ]
  },
  "hconcat": [
    {
      "width": 283,
      "height": 424,
      "encoding": {
        "x": {
          "field": "time", "type": "temporal",
          "scale": {"domain": [{"year": 2018, "month": 10, "date": 26}, {"year": 2018, "month": 11, "date": 4}]},
          "axis": {
            "title": "Date",
            "values": [
              {"year": 2018, "month": 10, "date": 26}, {"year": 2018, "month": 10, "date": 27},
              {"year": 2018, "month": 10, "date": 28}, {"year": 2018, "month": 10, "date": 29},
              {"year": 2018, "month": 10, "date": 30}, {"year": 2018, "month": 10, "date": 31},
              {"year": 2018, "month": 11, "date": 1}, {"year": 2018, "month": 11, "date": 2},
              {"year": 2018, "month": 11, "date": 3}, {"year": 2018, "month": 11, "date": 4}
            ],
            "labelExpr": "round((datum.value - datetime(2018, 9, 26)) / 86400000) % 2 == 0 ? timeFormat(datum.value, '%b %-d') : ''",
            "labelPadding": 4,
            "titlePadding": 16
          }
        },
        "y": {
          "field": "value", "type": "quantitative",
          "scale": {"domain": [0, 10]},
          "axis": {
            "title": "Aerosol Correction Term Error (ppb)",
            "titleFontSize": 20.5,
            "titlePadding": 0,
            "values": [0,0.5,1,1.5,2,2.5,3,3.5,4,4.5,5,5.5,6,6.5,7,7.5,8,8.5,9,9.5,10],
            "labelExpr": "datum.value % 1 == 0 ? format(datum.value, 'd') : ''"
          }
        }
      },
      "layer": [
        {
          "data": {"name": "ts"},
          "mark": {"type": "line", "strokeWidth": 2.4},
          "encoding": {
            "color": {
              "field": "series", "type": "nominal",
              "scale": {"domain": ["300m", "500m", "1000m", "1500m", "2000m"], "range": ["#000000", "#ff0000", "#0000ff", "#ff00ff", "#008000"]},
              "legend": {"orient": "none", "legendX": 198, "legendY": 10, "symbolType": "M-2,0H2", "symbolSize": 256, "labelOffset": 6}
            }
          }
        },
        {
          "data": {"name": "notesA"},
          "mark": {"type": "text", "font": "Liberation Serif", "fontSize": 24, "align": "left", "baseline": "middle", "color": "black"},
          "encoding": {"text": {"field": "label"}}
        }
      ]
    },
    {
      "width": 329,
      "height": 424,
      "encoding": {
        "x": {
          "field": "err", "type": "quantitative",
          "scale": {"domain": [0, 6], "nice": false},
          "axis": {
            "title": "Aerosol Correction Term Error(ppb)",
            "titleX": 141,
            "values": [0,0.5,1,1.5,2,2.5,3,3.5,4,4.5,5,5.5],
            "labelExpr": "datum.value % 1 == 0 ? format(datum.value, 'd') : ''",
            "labelPadding": 4,
            "titlePadding": 16
          }
        },
        "y": {
          "field": "alt", "type": "quantitative",
          "scale": {"domain": [0, 3.5], "nice": false},
          "axis": {
            "title": "Altitude (km)",
            "titleFontSize": 21,
            "titlePadding": 0,
            "values": [0,0.25,0.5,0.75,1,1.25,1.5,1.75,2,2.25,2.5,2.75,3,3.25,3.5],
            "labelExpr": "(datum.value * 2) % 1 == 0 ? format(datum.value, '.1f') : ''"
          }
        }
      },
      "layer": [
        {
          "data": {"name": "prof"},
          "mark": {"type": "line", "strokeWidth": 2.6, "interpolate": "catmull-rom"},
          "encoding": {
            "order": {"field": "alt", "type": "quantitative"},
            "color": {
              "field": "date", "type": "nominal",
              "scale": {"domain": ["2018-10-27 18:00:30 (LST)", "2018-10-29 17:58:02 (LST)", "2018-10-31 17:58:12 (LST)", "2018-11-03 17:58:28 (LST)"], "range": ["#000000", "#ff0000", "#0000ff", "#ff00ff"]},
              "legend": {"orient": "none", "legendX": 93, "legendY": 9, "symbolType": "M-2,0H2", "symbolSize": 289, "labelOffset": 10}
            }
          }
        },
        {
          "data": {"name": "notesB"},
          "mark": {"type": "text", "font": "Liberation Serif", "fontSize": 24, "align": "left", "baseline": "middle", "color": "black"},
          "encoding": {"text": {"field": "label"}}
        }
      ]
    }
  ]
}
